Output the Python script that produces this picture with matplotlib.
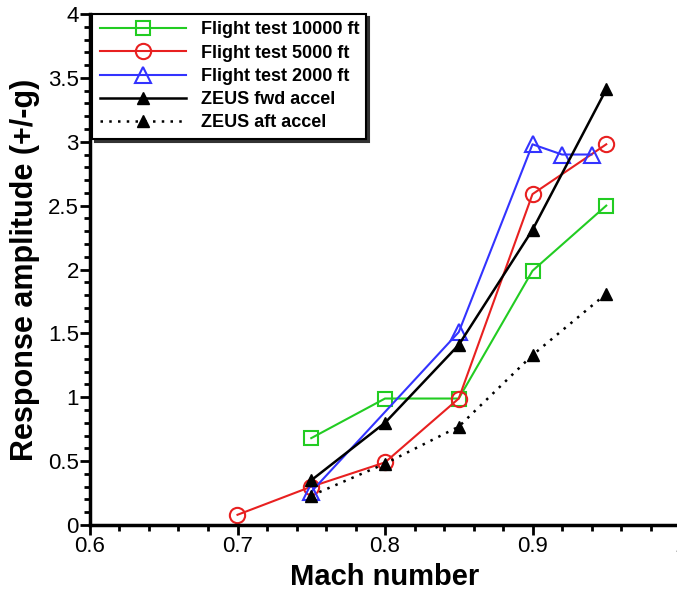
import matplotlib
matplotlib.use("Agg")
import matplotlib.pyplot as plt
from matplotlib.ticker import MultipleLocator, FuncFormatter

plt.rcParams['font.family'] = ['Liberation Sans', 'DejaVu Sans']

mach_10000 = [0.75, 0.80, 0.85, 0.90, 0.95]
amp_10000 = [0.68, 0.99, 0.99, 1.99, 2.50]

mach_5000 = [0.70, 0.75, 0.80, 0.85, 0.90, 0.95]
amp_5000 = [0.08, 0.30, 0.49, 0.99, 2.59, 2.98]

mach_2000 = [0.75, 0.85, 0.90, 0.92, 0.94]
amp_2000 = [0.26, 1.51, 2.98, 2.90, 2.90]

mach_fwd = [0.75, 0.80, 0.85, 0.90, 0.95]
amp_fwd = [0.35, 0.80, 1.41, 2.31, 3.41]

mach_aft = [0.75, 0.80, 0.85, 0.90, 0.95]
amp_aft = [0.23, 0.48, 0.77, 1.33, 1.81]

fig = plt.figure(figsize=(6.77, 5.92), dpi=100)
ax = fig.add_axes([90/677, 67/592, 590/677, 511/592])

ax.plot(mach_10000, amp_10000, color='#22cc22', lw=1.5, marker='s', ms=10,
        mfc='none', mec='#22cc22', mew=1.5, label='Flight test 10000 ft')
ax.plot(mach_5000, amp_5000, color='#e82020', lw=1.5, marker='o', ms=11,
        mfc='none', mec='#e82020', mew=1.5, label='Flight test 5000 ft')
ax.plot(mach_2000, amp_2000, color='#3333ff', lw=1.5, marker='^', ms=11,
        mfc='none', mec='#3333ff', mew=1.5, label='Flight test 2000 ft')
ax.plot(mach_fwd, amp_fwd, color='black', lw=1.8, marker='^', ms=9,
        mfc='black', mec='black', label='ZEUS fwd accel')
ax.plot(mach_aft, amp_aft, color='black', lw=1.8, ls=(0, (1, 2.5)), marker='^', ms=9,
        mfc='black', mec='black', label='ZEUS aft accel')

ax.set_xlim(0.6, 1.0)
ax.set_ylim(0, 4)
ax.xaxis.set_major_locator(MultipleLocator(0.1))
ax.xaxis.set_minor_locator(MultipleLocator(0.02))
ax.yaxis.set_major_locator(MultipleLocator(0.5))
ax.yaxis.set_minor_locator(MultipleLocator(0.1))

def fmt(v, pos):
    return f"{v:g}"
ax.xaxis.set_major_formatter(FuncFormatter(fmt))
ax.yaxis.set_major_formatter(FuncFormatter(fmt))

for s in ['top', 'right']:
    ax.spines[s].set_visible(False)
for s in ['left', 'bottom']:
    ax.spines[s].set_linewidth(2.5)

ax.tick_params(which='major', direction='out', length=7, width=2, labelsize=16, pad=1)
ax.tick_params(which='minor', direction='out', length=4, width=2)

ax.set_xlabel('Mach number', fontsize=21, fontweight='bold', labelpad=4)
ax.set_ylabel('Response amplitude (+/-g)', fontsize=22, fontweight='bold', labelpad=6)

leg = ax.legend(loc='upper left', bbox_to_anchor=(0.004, 1.0), fancybox=False,
                shadow={'color': '0.2', 'alpha': 1.0}, edgecolor='black',
                framealpha=1, prop={'weight': 'bold', 'size': 13},
                handlelength=4.8, labelspacing=0.35, borderpad=0.4,
                handletextpad=0.8, borderaxespad=0)
leg.get_frame().set_linewidth(1.5)

fig.savefig('out.png', dpi=100)
